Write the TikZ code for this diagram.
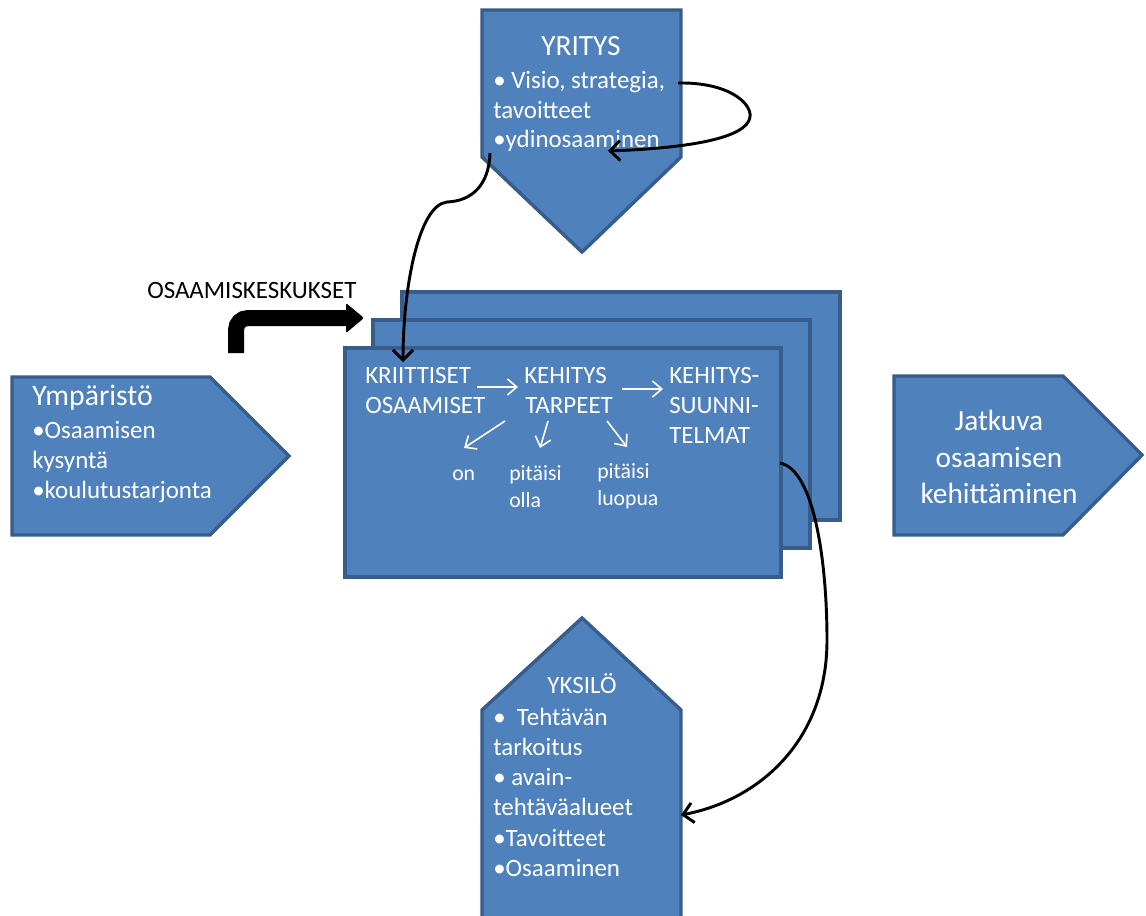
\documentclass[tikz,border=0pt]{standalone}
\usepackage{fontspec}
\setmainfont{Carlito}
\usetikzlibrary{arrows.meta}
\definecolor{fillblue}{HTML}{4F81BD}
\definecolor{edgeblue}{HTML}{385D8A}
\tikzset{
  shapebox/.style={fill=fillblue, draw=edgeblue, line width=2.6pt, line join=miter},
  bodytxt/.style={text=white, inner sep=0pt, font=\fontsize{18.7}{22}\selectfont, anchor=base west},
  titletxt/.style={text=white, inner sep=0pt, font=\fontsize{22}{26}\selectfont, anchor=base},
  titlewtxt/.style={text=white, inner sep=0pt, font=\fontsize{22.3}{26}\selectfont, anchor=base west},
  ctitletxt/.style={text=white, inner sep=0pt, font=\fontsize{18.7}{22}\selectfont, anchor=base},
  smalltxt/.style={text=white, inner sep=0pt, font=\fontsize{16.3}{19}\selectfont, anchor=base west},
  blacktxt/.style={text=black, inner sep=0pt, font=\fontsize{18.7}{22}\selectfont, anchor=base west},
  conn/.style={line width=2.2pt, -{Straight Barb[length=7.5pt,width=15pt]}},
  wconn/.style={draw=white, line width=1.2pt, -{Straight Barb[length=7pt,width=12pt]}},
}
\begin{document}
\begin{tikzpicture}[x=0.75pt,y=-0.75pt]
\useasboundingbox (0,0) rectangle (1146,915);
\clip (0,0) rectangle (1146,915);

% shapes
\path[shapebox] (482,10) -- (681,10) -- (681,157) -- (582,252) -- (482,157) -- cycle;
\path[shapebox] (12,377) -- (210,377) -- (289,456) -- (210,535) -- (12,535) -- cycle;
\path[shapebox] (894,376) -- (1063,376) -- (1142,455) -- (1063,535) -- (894,535) -- cycle;
\path[shapebox] (402,292) rectangle (840,520);
\path[shapebox] (373,320) rectangle (810,548);
\path[shapebox] (345,348) rectangle (781,577);
\path[shapebox] (582,618) -- (681,710) -- (681,940) -- (482,940) -- (482,710) -- cycle;

% YRITYS
\node[titletxt] (yrT) at (581,55) {YRITYS};
\node[bodytxt] (yr1) at (493,88) {• Visio, strategia,};
\node[bodytxt] (yr2) at (493,118) {tavoitteet};
\node[bodytxt] (yr3) at (493,147) {•ydinosaaminen};

% Ymparisto
\node[titlewtxt] (ymT) at (32,405) {Ympäristö};
\node[bodytxt] (ym1) at (32,438) {•Osaamisen};
\node[bodytxt] (ym2) at (32,468) {kysyntä};
\node[bodytxt] (ym3) at (32,498) {•koulutustarjonta};

% Jatkuva
\node[titletxt] (ja1) at (999,430) {Jatkuva};
\node[titletxt] (ja2) at (999,467) {osaamisen};
\node[titletxt] (ja3) at (999,503) {kehittäminen};

% center
\node[bodytxt] (kr1) at (365,383) {KRIITTISET};
\node[bodytxt] (kr2) at (365,413) {OSAAMISET};
\node[bodytxt] (ke1) at (524,383) {KEHITYS};
\node[bodytxt] (ke2) at (525,413) {TARPEET};
\node[bodytxt] (su1) at (669,383) {KEHITYS-};
\node[bodytxt] (su2) at (669,413) {SUUNNI-};
\node[bodytxt] (su3) at (669,443) {TELMAT};
\node[smalltxt] (on) at (452,480) {on};
\node[smalltxt] (po1) at (509,480) {pitäisi};
\node[smalltxt] (po2) at (509,507) {olla};
\node[smalltxt] (pl1) at (597,478) {pitäisi};
\node[smalltxt] (pl2) at (597,505) {luopua};

% YKSILO
\node[ctitletxt] (ykT) at (582,693) {YKSILÖ};
\node[bodytxt] (yk1) at (493,725) {•~~Tehtävän};
\node[bodytxt] (yk2) at (493,755) {tarkoitus};
\node[bodytxt] (yk3) at (493,785) {• avain-};
\node[bodytxt] (yk4) at (493,815) {tehtäväalueet};
\node[bodytxt] (yk5) at (493,846) {•Tavoitteet};
\node[bodytxt] (yk6) at (493,876) {•Osaaminen};

% OSAAMISKESKUKSET
\node[blacktxt] (osk) at (147,298) {OSAAMISKESKUKSET};
\draw[line width=12pt, rounded corners=9pt] (236,353) -- (236,318) -- (350,318);
\fill[rounded corners=1.5pt] (346,303) -- (364,318) -- (346,333) -- cycle;

% white arrows
\coordinate (w1s) at (477,387); \coordinate (w1e) at (518,387);
\coordinate (w2s) at (622,389); \coordinate (w2e) at (663,389);
\coordinate (w3s) at (505,421); \coordinate (w3e) at (464,448);
\coordinate (w4s) at (548,421); \coordinate (w4e) at (540,448);
\coordinate (w5s) at (607,421); \coordinate (w5e) at (627,447);
\draw[wconn] (w1s) -- (w1e);
\draw[wconn] (w2s) -- (w2e);
\draw[wconn] (w3s) -- (w3e);
\draw[wconn] (w4s) -- (w4e);
\draw[wconn] (w5s) -- (w5e);

% black connectors
\coordinate (c1s) at (490,153); \coordinate (c1e) at (403,362);
\coordinate (c2s) at (678,83);  \coordinate (c2e) at (608,151);
\coordinate (c3s) at (780,463); \coordinate (c3e) at (681,815);
\draw[conn] (c1s) .. controls (489,185) and (472,201) .. (447,202)
                  .. controls (418,205) and (403,290) .. (c1e);
\draw[conn] (c2s) .. controls (728,82) and (752,103) .. (750,117)
                  .. controls (747,138) and (690,148) .. (c2e);
\draw[conn] (c3s) .. controls (815,470) and (827,565) .. (827,640)
                  .. controls (827,740) and (760,800) .. (c3e);
\end{tikzpicture}
\end{document}
